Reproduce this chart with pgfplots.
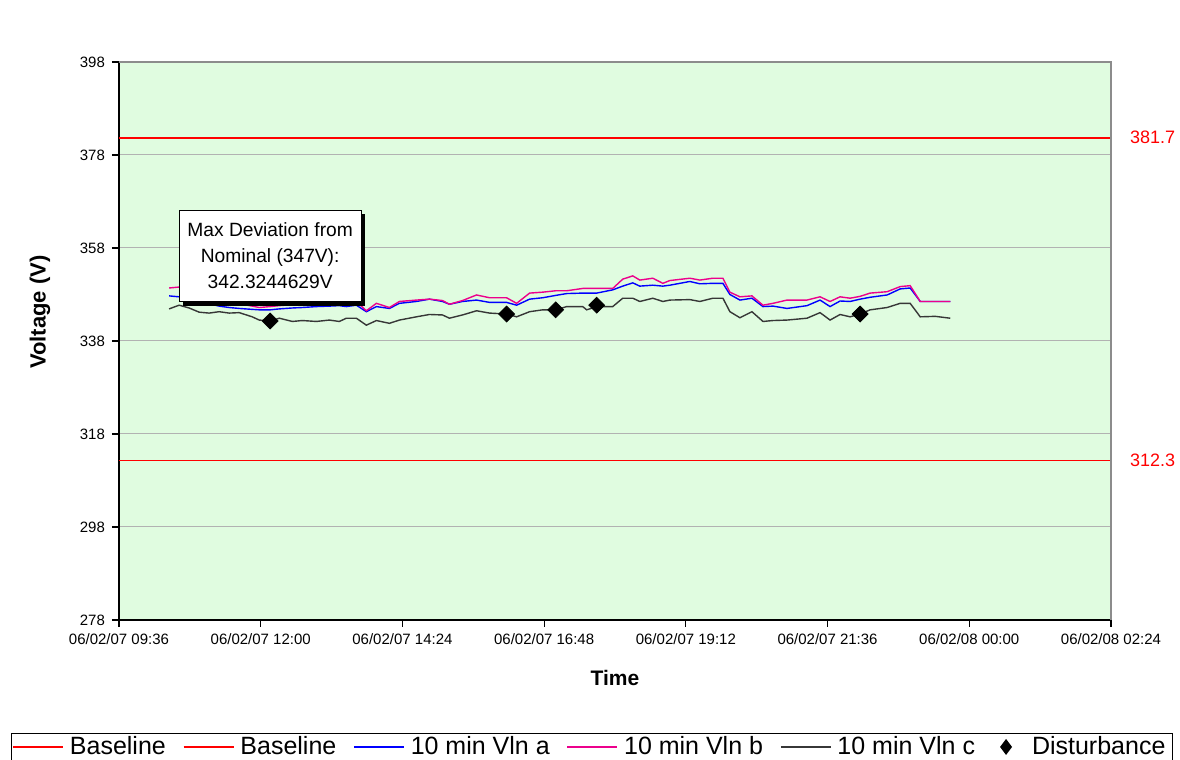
\documentclass[border=0pt]{standalone}
\usepackage{pgfplots}
\usepackage{pgfplotstable}
\pgfplotsset{compat=1.18}
\usepackage{fontspec}
\setmainfont{Liberation Sans}

\definecolor{plotbg}{RGB}{224,252,224}
\definecolor{vlnc}{RGB}{55,55,55}

% time in hours from 06/02/07 00:00
\pgfplotstableread{
t      a      b      c
10.448 347.7  349.4  344.9
10.618 347.5  349.6  345.7
10.787 347.0  348.8  345.1
10.957 346.5  348.3  344.2
11.126 346.0  347.6  344.0
11.296 345.5  347.0  344.3
11.466 345.2  346.5  344.0
11.635 345.0  346.0  344.1
11.856 344.8  345.5  343.2
11.975 344.7  345.2  342.5
12.161 344.7  345.4  342.3
12.314 344.9  345.6  342.9
12.534 345.1  345.8  342.2
12.704 345.2  345.9  342.4
12.941 345.4  346.0  342.2
13.162 345.5  346.2  342.5
13.331 345.6  346.3  342.2
13.450 345.4  346.0  342.9
13.620 345.7  346.5  342.9
13.789 344.3  344.5  341.4
13.959 345.4  346.1  342.4
14.179 345.0  345.2  341.8
14.349 346.1  346.5  342.5
14.637 346.5  346.8  343.2
14.858 347.0  347.0  343.7
15.078 346.5  346.7  343.6
15.197 345.9  345.9  342.9
15.418 346.5  346.7  343.6
15.655 346.8  347.9  344.5
15.876 346.3  347.3  344.0
16.164 346.3  347.3  343.8
16.334 345.7  346.1  343.2
16.554 347.0  348.3  344.3
16.775 347.3  348.5  344.7
16.995 347.8  348.8  344.7
17.182 348.2  348.8  345.4
17.453 348.3  349.3  345.4
17.521 348.3  349.3  344.7
17.690 348.3  349.3  345.4
17.962 349.0  349.3  345.4
18.131 349.8  351.3  347.2
18.301 350.5  352.0  347.2
18.420 349.8  351.1  346.5
18.640 350.0  351.5  347.2
18.810 349.8  350.4  346.5
18.929 350.0  351.0  346.8
19.268 350.8  351.5  346.9
19.437 350.3  351.1  346.5
19.658 350.4  351.5  347.2
19.828 350.4  351.5  347.2
19.946 348.0  348.5  344.3
20.116 346.8  347.5  343.0
20.319 347.2  347.7  344.3
20.506 345.4  345.7  342.2
20.676 345.5  346.1  342.4
20.913 345.0  346.8  342.5
21.252 345.6  346.8  342.9
21.473 346.8  347.5  344.1
21.642 345.4  346.5  342.5
21.812 346.6  347.5  343.7
21.982 346.5  347.2  343.2
22.151 347.0  347.6  343.8
22.321 347.4  348.3  344.7
22.609 347.9  348.6  345.2
22.830 349.2  349.7  346.1
22.999 349.4  349.9  346.1
23.169 346.5  346.5  343.2
23.423 346.5  346.5  343.3
23.678 346.5  346.5  342.9
}\vlndata

\pgfplotstableread{
t      v
12.161 342.3
16.164 343.8
16.995 344.7
17.690 345.7
22.151 343.8
}\disturbdata

\begin{document}
\begin{tikzpicture}
\path[use as bounding box] (0,0) rectangle (590pt,380pt);
\begin{axis}[
  at={(59.5pt,70pt)}, anchor=south west,
  scale only axis, width=496pt, height=279pt,
  xmin=9.6, xmax=26.4, ymin=278, ymax=398,
  axis x line*=bottom, axis y line*=left,
  axis line style={-, line width=0.8pt, black},
  axis background/.style={fill=plotbg},
  tick align=outside, major tick length=3.5pt,
  tick style={black, line width=0.6pt},
  xtick={9.6,12,14.4,16.8,19.2,21.6,24,26.4},
  xticklabels={06/02/07 09:36,06/02/07 12:00,06/02/07 14:24,06/02/07 16:48,06/02/07 19:12,06/02/07 21:36,06/02/08 00:00,06/02/08 02:24},
  ytick={278,298,...,398},
  ymajorgrids,
  major grid style={black!30, line width=0.5pt},
  /pgf/number format/assume math mode=true,
  ticklabel style={font=\fontsize{7.5}{9}\selectfont},
  xlabel={\textbf{Time}},
  xlabel style={at={(axis description cs:0.5,-0.104)}, anchor=center, font=\fontsize{10.5}{12}\selectfont},
  ylabel={\textbf{Voltage (V)}},
  ylabel style={at={(axis description cs:-0.0796,0.552)}, anchor=center, font=\fontsize{11}{13}\selectfont},
  clip=false,
  legend columns=6,
  legend cell align=left,
  legend image code/.code={\draw[#1] (0pt,0pt) -- (25pt,0pt);},
  legend style={at={(-0.1089,-0.2025)}, anchor=north west,
    font=\fontsize{12.5}{14}\selectfont, inner sep=0.5pt,
    nodes={inner xsep=3pt, inner ysep=1pt},
    /tikz/every even column/.append style={column sep=5.5pt}},
]
\addplot[red, line width=0.8pt, no markers] coordinates {(9.6,381.7) (26.4,381.7)};
\addlegendentry{Baseline}
\addplot[red, line width=0.8pt, no markers] coordinates {(9.6,312.3) (26.4,312.3)};
\addlegendentry{Baseline}
\addplot[blue, line width=0.7pt, no markers] table[x=t, y=a] {\vlndata};
\addlegendentry{10 min Vln a}
\addplot[magenta, line width=0.7pt, no markers] table[x=t, y=b] {\vlndata};
\addlegendentry{10 min Vln b}
\addplot[vlnc, line width=0.7pt, no markers] table[x=t, y=c] {\vlndata};
\addlegendentry{10 min Vln c}
\addplot[only marks, mark=square*, mark size=2.8pt, mark options={rotate=45, fill=black, draw=black},
  legend image code/.code={\path[draw=none] (0pt,0pt) -- (17pt,0pt); \path[draw=none, fill=black] (7pt,4pt) -- (10pt,0pt) -- (7pt,-4pt) -- (4pt,0pt) -- cycle;}]
  table[x=t, y=v] {\disturbdata};
\addlegendentry{Disturbance}

% plot area border, right and top
\draw[black!45, line width=0.6pt] (rel axis cs:0,1) -- (rel axis cs:1,1) -- (rel axis cs:1,0);

% baseline values at the right
\node[anchor=west, text=red, font=\fontsize{9}{10}\selectfont, xshift=6pt] at (axis cs:26.4,381.7) {381.7};
\node[anchor=west, text=red, font=\fontsize{9}{10}\selectfont, xshift=6pt] at (axis cs:26.4,312.3) {312.3};

% annotation box
\fill[black] ([xshift=2pt,yshift=-2pt]axis cs:10.618,366.17) rectangle ([xshift=2pt,yshift=-2pt]axis cs:13.705,346.39);
\draw[fill=white, line width=0.5pt] (axis cs:10.618,366.17) rectangle (axis cs:13.705,346.39);
\node[align=center, font=\fontsize{9.6}{13}\selectfont] at (axis cs:12.16,356.28) {Max Deviation from\\Nominal (347V):\\342.3244629V};
\end{axis}
\end{tikzpicture}
\end{document}
